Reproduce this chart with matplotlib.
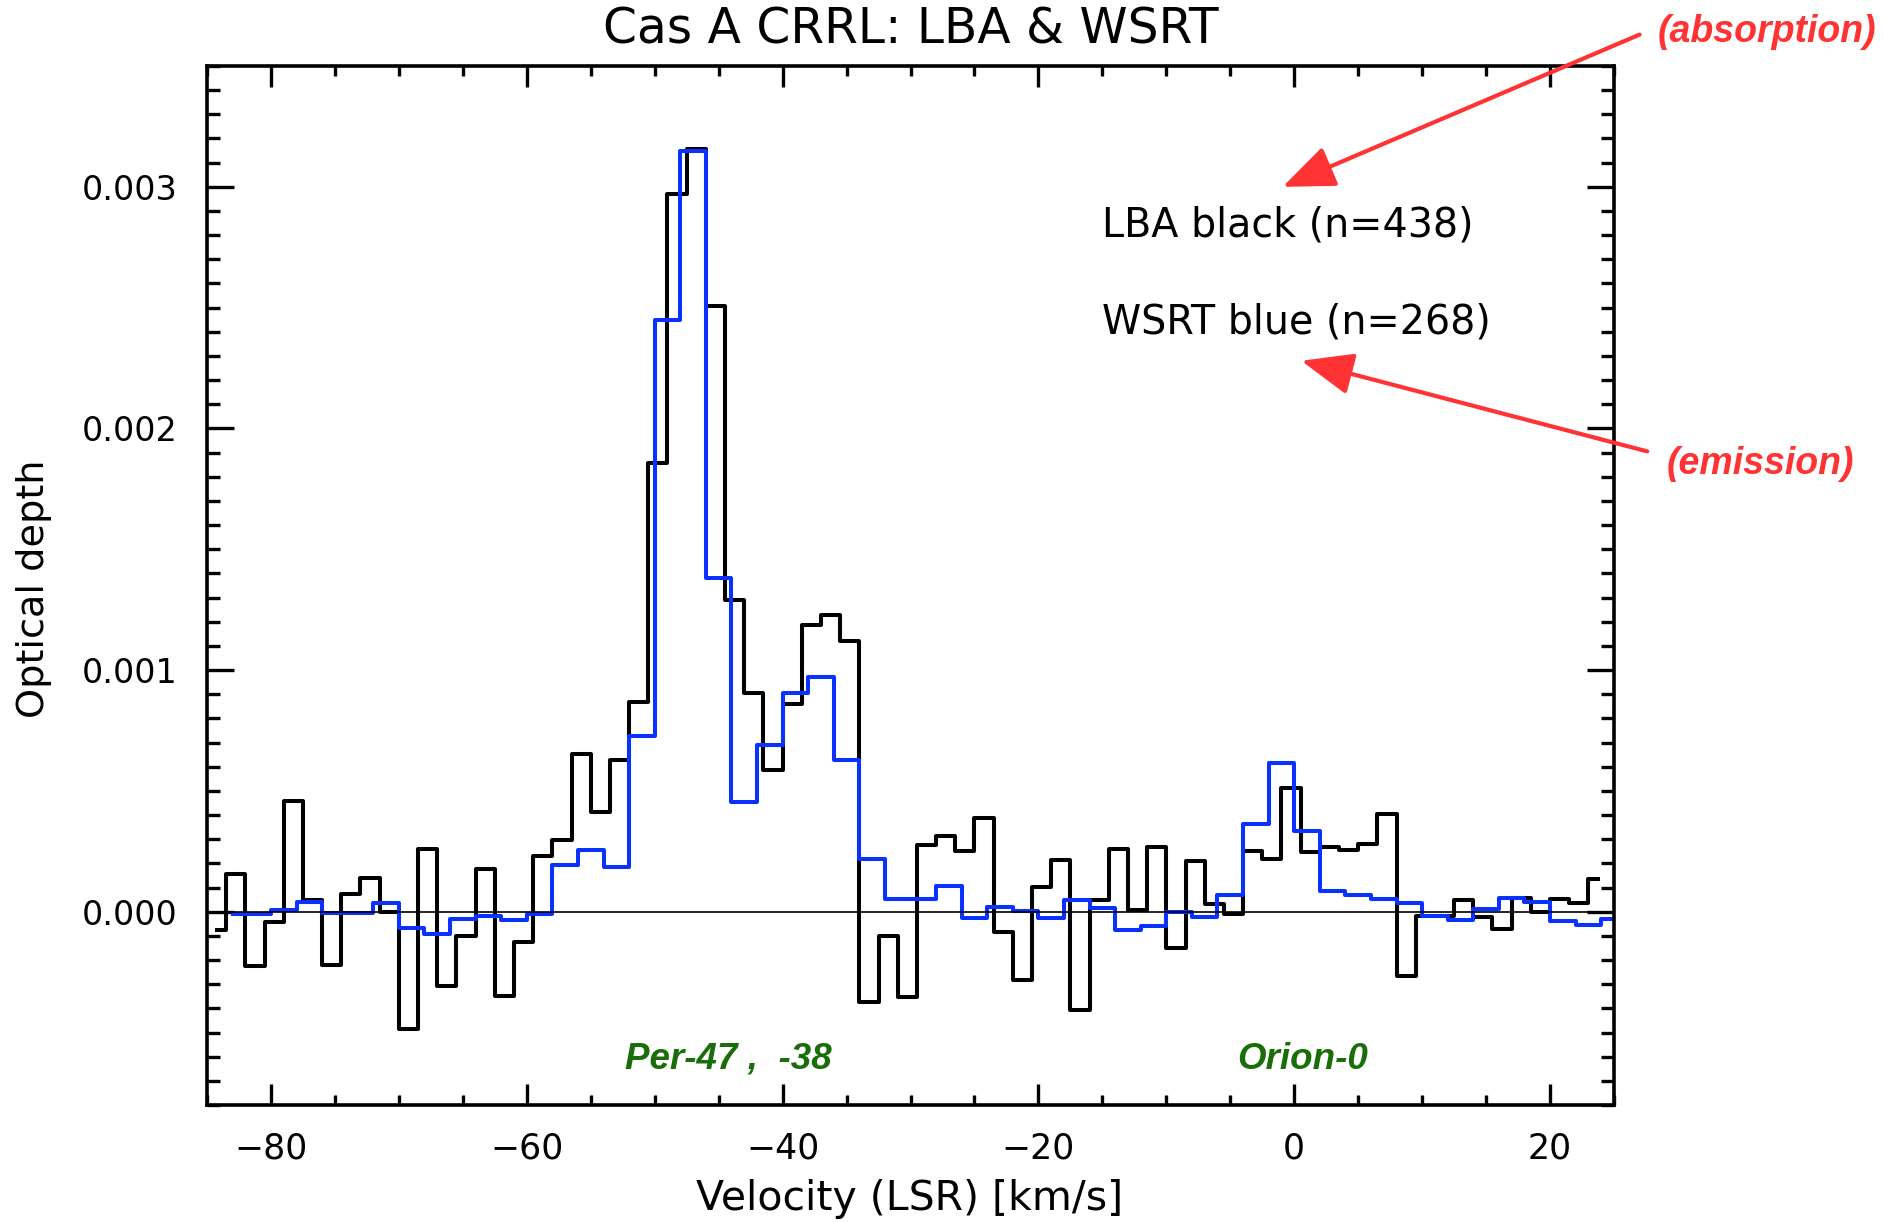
import numpy as np
import matplotlib
matplotlib.use("Agg")
import matplotlib.pyplot as plt
from matplotlib.ticker import MultipleLocator, FormatStrFormatter

plt.rcParams['font.family'] = ['DejaVu Sans']

# LBA spectrum: 1.5 km/s channels, optical depth in units of 1e-3
lba_v0 = -84.25
lba_dv = 1.5
lba_tau = [-0.076, 0.154, -0.223, -0.041, 0.460, 0.048, -0.220, 0.073, 0.140, -0.003,
           -0.486, 0.259, -0.306, -0.101, 0.176, -0.347, -0.124, 0.231, 0.295, 0.652,
           0.413, 0.629, 0.868, 1.855, 2.970, 3.155, 2.508, 1.291, 0.906, 0.586,
           0.859, 1.186, 1.227, 1.120, -0.375, -0.102, -0.351, 0.278, 0.313, 0.253,
           0.389, -0.083, -0.281, 0.104, 0.215, -0.406, 0.049, 0.261, 0.007, 0.267,
           -0.150, 0.208, 0.031, -0.011, 0.253, 0.218, 0.514, 0.245, 0.267, 0.255,
           0.282, 0.404, -0.267, -0.017, -0.019, 0.048, -0.023, -0.072, 0.057, 0.000,
           0.052, 0.035, 0.135]

# WSRT spectrum: 2 km/s channels
wsrt_v0 = -83.0
wsrt_dv = 2.0
wsrt_tau = [-0.011, -0.011, 0.008, 0.039, -0.006, -0.006, 0.036, -0.069, -0.091, -0.030,
            -0.018, -0.036, -0.008, 0.195, 0.254, 0.183, 0.728, 2.448, 3.148, 1.381,
            0.456, 0.688, 0.906, 0.973, 0.626, 0.220, 0.053, 0.053, 0.106, -0.028,
            0.021, 0.003, -0.028, 0.049, 0.014, -0.076, -0.058, -0.003, -0.020, 0.068,
            0.362, 0.614, 0.332, 0.087, 0.068, 0.054, 0.036, -0.019, -0.035, 0.011,
            0.055, 0.039, -0.037, -0.055, -0.030]

v_lba = lba_v0 + lba_dv * np.arange(len(lba_tau))
v_wsrt = wsrt_v0 + wsrt_dv * np.arange(len(wsrt_tau))
tau_lba = np.array(lba_tau) * 1e-3
tau_wsrt = np.array(wsrt_tau) * 1e-3

W, H = 1884, 1223
fig = plt.figure(figsize=(W / 100, H / 100), dpi=100)
ax = fig.add_axes([207 / W, 1 - 1105 / H, (1614 - 207) / W, (1105 - 66) / H])

ax.step(v_lba, tau_lba, where='mid', color='black', lw=2.9)
ax.step(v_wsrt, tau_wsrt, where='mid', color='#0a32ff', lw=2.9)
ax.axhline(0, color='black', lw=1.2)

ax.set_xlim(-85, 25)
ax.set_ylim(-0.0008, 0.0035)
ax.xaxis.set_major_locator(MultipleLocator(20))
ax.xaxis.set_minor_locator(MultipleLocator(5))
ax.yaxis.set_major_locator(MultipleLocator(0.001))
ax.yaxis.set_minor_locator(MultipleLocator(0.0001))
ax.yaxis.set_major_formatter(FormatStrFormatter('%.3f'))

for s in ax.spines.values():
    s.set_linewidth(2.6)
ax.tick_params(axis='x', which='both', direction='in', top=True, bottom=True,
               width=2.4, labelsize=25, pad=19)
ax.tick_params(axis='x', which='major', length=15)
ax.tick_params(axis='x', which='minor', length=7.5)
ax.tick_params(axis='y', which='both', direction='in', left=True, right=True,
               width=2.4, labelsize=24, pad=21)
ax.tick_params(axis='y', which='major', length=19.5)
ax.tick_params(axis='y', which='minor', length=9.7)

ax.text(0.5, 1 + (66 - 29) / 1039, 'Cas A CRRL: LBA & WSRT', transform=ax.transAxes,
        ha='center', va='center', fontsize=35)
fig.text(910 / W, 1 - 1199 / H, 'Velocity (LSR) [km/s]', ha='center', va='center', fontsize=29.5)
fig.text(34 / W, 1 - 589 / H, 'Optical depth', ha='center', va='center',
         rotation=90, fontsize=27.5)

ax.text(-15, 0.00284, 'LBA black (n=438)', ha='left', va='center', fontsize=28.5)
ax.text(-15, 0.00244, 'WSRT blue (n=268)', ha='left', va='center', fontsize=28.5)

green = '#1a6e0a'
ax.text(-52.3, -0.00061, 'Per-47 ,  -38', color=green, fontsize=26.5, fontweight='bold',
        fontstyle='italic', ha='left', va='center', family=['Liberation Sans', 'DejaVu Sans'])
ax.text(-4.45, -0.00061, 'Orion-0', color=green, fontsize=26.5, fontweight='bold',
        fontstyle='italic', ha='left', va='center', family=['Liberation Sans', 'DejaVu Sans'])

red = '#ff3333'
arrow = dict(arrowstyle='-|>,head_length=1.6,head_width=0.65', color=red, lw=3,
             mutation_scale=20, shrinkA=0, shrinkB=0)
ax.annotate('', xy=(-0.9, 0.0030), xytext=(27.0, 0.00363), arrowprops=arrow,
            annotation_clip=False)
ax.annotate('', xy=(0.55, 0.00228), xytext=(27.6, 0.001905), arrowprops=arrow,
            annotation_clip=False)
fig.text(1767 / W, 1 - 32 / H, '(absorption)', color=red, fontsize=27, fontweight='bold',
         fontstyle='italic', ha='center', va='center',
         family=['Liberation Sans Narrow', 'Liberation Sans', 'DejaVu Sans'])
fig.text(1760 / W, 1 - 464 / H, '(emission)', color=red, fontsize=27, fontweight='bold',
         fontstyle='italic', ha='center', va='center',
         family=['Liberation Sans Narrow', 'Liberation Sans', 'DejaVu Sans'])

fig.savefig('out.png', dpi=100)
